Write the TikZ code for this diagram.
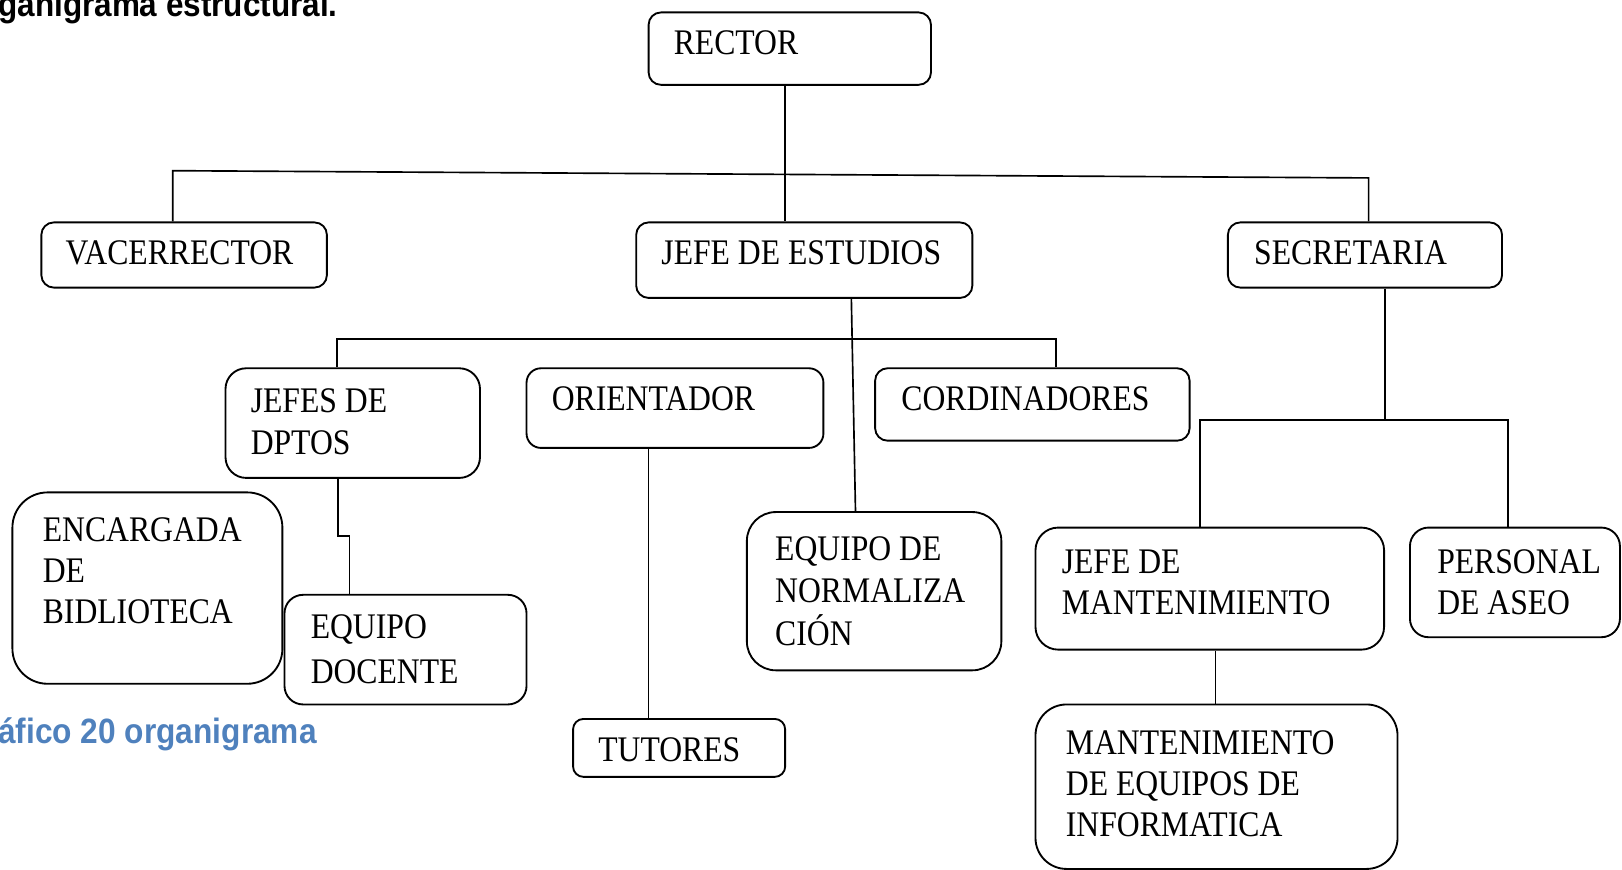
\documentclass[tikz,border=0pt]{standalone}
\usepackage{fontspec}
\setmainfont{Liberation Serif}[FakeStretch=0.88]
\newfontfamily\tsans{Liberation Sans}[FakeStretch=0.9]
\definecolor{capblue}{RGB}{79,129,189}
\begin{document}
\begin{tikzpicture}[x=0.5pt,y=-0.5pt,
  box/.style={draw=black,line width=0.9pt,rounded corners=6pt,inner sep=0pt},
  txt/.style={anchor=base west,inner sep=0pt,font=\fontsize{17.4pt}{20pt}\selectfont},
  conn/.style={draw=black,line width=0.8pt}]
\useasboundingbox (0,0) rectangle (1568,841);
\clip (0,0) rectangle (1568,841);
% title and caption
\node[anchor=base west,inner sep=0pt,font=\tsans\bfseries\fontsize{16.9pt}{19pt}\selectfont] (title) at (-2,16) {ganigrama estructural.};
\node[anchor=base west,inner sep=0pt,text=capblue,font=\tsans\bfseries\fontsize{17pt}{19pt}\selectfont] (caption) at (-2,719) {áfico 20 organigrama};
% boxes
\node[box,minimum width=136.5pt,minimum height=35pt] (rector) at (763.5,47) {};
\node[box,minimum width=138pt,minimum height=31.5pt] (vac) at (178,246.5) {};
\node[box,minimum width=162.5pt,minimum height=36.5pt] (jefe) at (777.5,251.5) {};
\node[box,minimum width=132.5pt,minimum height=31.5pt] (sec) at (1319.5,246.5) {};
\node[box,rounded corners=10pt,minimum width=123pt,minimum height=53pt] (jdp) at (341,409) {};
\node[box,rounded corners=7pt,minimum width=143.5pt,minimum height=38.5pt] (ori) at (652.5,394.5) {};
\node[box,minimum width=152pt,minimum height=35pt] (cord) at (998,391) {};
\node[box,rounded corners=17pt,minimum width=130.5pt,minimum height=92.5pt] (enc) at (142.5,568.5) {};
\node[box,rounded corners=9pt,minimum width=117pt,minimum height=53pt] (edoc) at (392,628) {};
\node[box,rounded corners=5pt,minimum width=102.5pt,minimum height=28pt] (tut) at (656.5,723) {};
\node[box,rounded corners=14pt,minimum width=123pt,minimum height=76.5pt] (eqn) at (845,571.5) {};
\node[box,rounded corners=11pt,minimum width=168.5pt,minimum height=59pt] (jm) at (1169.5,569) {};
\node[box,rounded corners=9pt,minimum width=101.5pt,minimum height=53pt] (pa) at (1464.5,563) {};
\node[box,rounded corners=15pt,minimum width=175pt,minimum height=79.5pt] (mi) at (1176,760.5) {};
% texts
\node[txt] (t-rector) at (651,53) {RECTOR};
\node[txt] (t-vac) at (63,256) {VACERRECTOR};
\node[txt] (t-jefe) at (639,256) {JEFE DE ESTUDIOS};
\node[txt] (t-sec) at (1212,256) {SECRETARIA};
\node[txt] (t-jdp) at (242,399) {\begin{tabular}[t]{@{}l@{}}JEFES DE\\DPTOS\end{tabular}};
\node[txt] (t-ori) at (533,397) {ORIENTADOR};
\node[txt] (t-cord) at (871,397) {CORDINADORES};
\node[txt] (t-enc) at (41,523) {\begin{tabular}[t]{@{}l@{}}ENCARGADA\\DE\\BIDLIOTECA\end{tabular}};
\node[txt] (t-edoc) at (300,617) {\begin{tabular}[t]{@{}l@{}}EQUIPO\\[2pt]DOCENTE\end{tabular}};
\node[txt] (t-tut) at (578,736) {TUTORES};
\node[txt] (t-eqn) at (749,542) {\begin{tabular}[t]{@{}l@{}}EQUIPO DE\\NORMALIZA\\CIÓN\end{tabular}};
\node[txt] (t-jm) at (1026,554) {\begin{tabular}[t]{@{}l@{}}JEFE DE\\MANTENIMIENTO\end{tabular}};
\node[txt] (t-pa) at (1389,554) {\begin{tabular}[t]{@{}l@{}}PERSONAL\\DE ASEO\end{tabular}};
\node[txt] (t-mi) at (1030,729) {\begin{tabular}[t]{@{}l@{}}MANTENIMIENTO\\DE EQUIPOS DE\\INFORMATICA\end{tabular}};
% junction coordinates
\coordinate (barL) at (167,165);
\coordinate (barR) at (1323,172);
\coordinate (j1) at (759,168);
\coordinate (ns) at (823,0);
\coordinate (ne) at (827,0);
\coordinate (b2L) at (326,328);
\coordinate (b2R) at (1021,328);
\coordinate (k1) at (327,518);
\coordinate (k2) at (338,518);
\coordinate (o1) at (627,0);
\coordinate (s1) at (1339,406);
\coordinate (s2) at (1160,406);
\coordinate (s3) at (1458,406);
\coordinate (m1) at (1175,0);
% connectors
\draw[conn] (vac.north -| barL) -- (barL) -- (barR) -- (sec.north -| barR);
\draw[conn] (rector.south -| j1) -- (jefe.north -| j1);
\draw[conn] (jefe.south -| ns) -- (eqn.north -| ne);
\draw[conn] (jdp.north -| b2L) -- (b2L) -- (b2R) -- (cord.north -| b2R);
\draw[conn] (jdp.south -| k1) -- (k1) -- (k2) -- (edoc.north -| k2);
\draw[conn] (ori.south -| o1) -- (tut.north -| o1);
\draw[conn] (sec.south -| s1) -- (s1);
\draw[conn] (jm.north -| s2) -- (s2) -- (s3) -- (pa.north -| s3);
\draw[conn] (jm.south -| m1) -- (mi.north -| m1);
\end{tikzpicture}
\end{document}
